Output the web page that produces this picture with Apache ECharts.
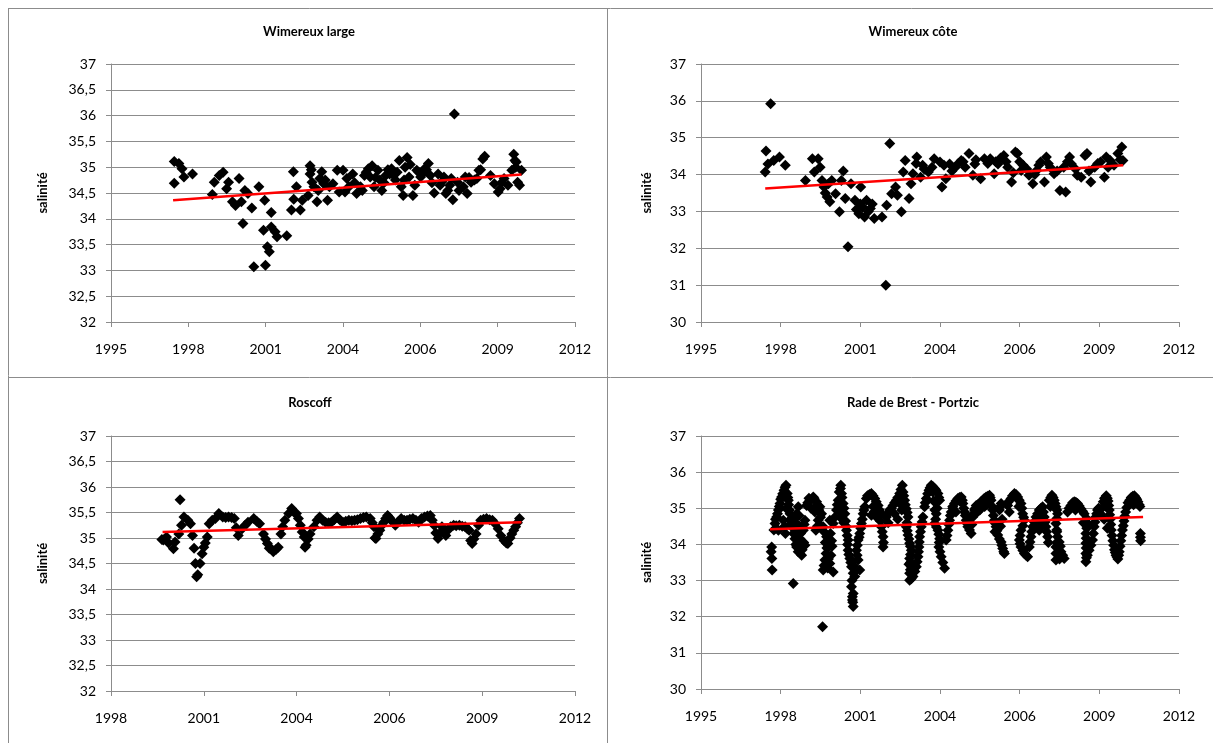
<!DOCTYPE html>
<html>
<head>
<meta charset="utf-8">
<script src="https://cdn.jsdelivr.net/npm/echarts@6/dist/echarts.min.js"></script>
<style>
  html, body { margin: 0; padding: 0; background: #fff; }
  #chart { width: 1213px; height: 743px; }
</style>
</head>
<body>
<div id="chart"></div>
<script>
// x values are Excel date serials (days since 1899-12-30), y = salinity
var wimereuxLarge = [
  [35818,35.11],[35878,35.07],[35818,34.69],[35918,34.97],[35943,34.81],[36054,34.87],[36310,34.47],[36335,34.71],
  [36400,34.84],[36450,34.90],[36495,34.58],[36520,34.71],[36570,34.33],[36610,34.26],[36656,34.78],[36686,34.33],
  [36706,33.91],[36731,34.55],[36771,34.49],[36821,34.21],[36847,33.07],[36912,34.62],[36987,34.36],[36997,33.10],
  [36972,33.78],[37022,33.46],[37047,33.36],[37072,34.12],[37072,33.84],[37122,33.75],[37147,33.65],[37273,33.67],
  [37358,34.91],[37333,34.17],[37363,34.38],[37398,34.62],[37448,34.17],[37473,34.36],[37549,34.45],[37574,35.03],
  [37574,34.87],[37599,34.71],[37624,34.62],[37664,34.33],[37700,34.78],[37725,34.91],[37750,34.68],[37800,34.36],
  [37825,34.62],[37926,34.94],[37951,34.52],[38001,34.94],[38026,34.52],[38076,34.62],[38126,34.87],[38176,34.49],
  [38226,34.62],[38277,34.84],[38327,34.97],[38352,34.81],[38377,35.03],[38402,34.62],[38452,34.94],[38477,34.75],
  [38502,34.55],[38552,34.84],[38603,34.87],[38628,34.97],[38678,34.75],[38728,35.13],[38753,34.62],[38778,34.45],
  [38803,35.00],[38829,35.19],[38854,34.81],[38904,34.45],[38929,34.65],[38954,34.94],[39004,34.81],[39054,34.97],
  [39104,35.07],[39129,34.84],[39179,34.50],[39230,34.87],[39255,34.65],[39305,34.81],[39330,34.49],[39380,34.65],
  [39420,34.37],[39440,36.03],[39481,34.71],[39556,34.62],[39581,34.81],[39606,34.49],[39656,34.71],[39731,34.78],
  [39757,34.94],[39807,35.16],[39832,35.21],[39907,34.84],[39957,34.68],[40007,34.52],[40032,34.58],[40083,34.78],
  [40133,34.65],[40183,34.94],[40208,35.25],[40223,35.13],[40233,35.00],[40258,34.71],[40283,34.65],[40308,34.94],
  [37590,34.95],[37680,34.55],[37770,34.75],[37870,34.68],[38050,34.78],[38150,34.70],[38250,34.55],[38300,34.90],
  [38420,34.80],[38530,34.70],[38580,34.95],[38650,34.85],[38700,34.90],[38790,34.75],[38870,35.05],[38980,34.90],
  [39030,34.88],[39080,34.95],[39150,34.70],[39280,34.72],[39355,34.55],[39400,34.78],[39500,34.55],[39630,34.80],
  [39700,34.75],[39780,34.95],[40050,34.70],[40240,35.10]
];
var wimereuxLargeTrend = [[35803,34.36],[40308,34.86]];

var wimereuxCote = [
  [35806,34.07],[35816,34.64],[35840,34.29],[35874,35.92],[35913,34.38],[35985,34.48],[36058,34.25],[36311,33.84],
  [36398,34.43],[36422,34.07],[36471,34.43],[36495,34.20],[36519,33.84],[36544,33.66],[36583,33.39],[36617,33.26],
  [36641,33.84],[36689,33.48],[36738,32.99],[36762,33.84],[36786,34.10],[36811,33.35],[36845,32.04],[36883,33.75],
  [36932,33.30],[37005,33.66],[36981,32.94],[37029,33.12],[37053,32.85],[37078,33.30],[37126,33.08],[37175,32.81],
  [37272,32.85],[37320,31.00],[37330,33.17],[37369,34.84],[37393,33.48],[37442,33.66],[37466,33.44],[37515,32.99],
  [37539,34.07],[37563,34.38],[37612,33.35],[37636,33.75],[37660,34.02],[37709,34.48],[37757,33.93],[37782,34.25],
  [37854,34.07],[37927,34.43],[38000,34.34],[38024,33.66],[38073,33.89],[38121,34.29],[38194,34.20],[38267,34.38],
  [38316,34.20],[38364,34.57],[38413,33.98],[38437,34.29],[38510,33.89],[38558,34.43],[38631,34.43],[38680,34.02],
  [38728,34.29],[38801,34.52],[38850,34.20],[38898,33.80],[38947,34.61],[38971,34.57],[39019,34.11],[39044,34.25],
  [39117,33.98],[39165,33.75],[39214,34.11],[39262,34.34],[39311,33.80],[39335,34.48],[39383,34.20],[39432,34.02],
  [39505,33.57],[39553,34.20],[39578,33.53],[39626,34.48],[39650,34.29],[39723,33.98],[39772,33.93],[39820,34.52],
  [39845,34.57],[39893,33.80],[39942,34.20],[40015,34.34],[40063,33.93],[40087,34.48],[40136,34.38],[40184,34.25],
  [40233,34.57],[40282,34.75],[40296,34.38],
  [36560,33.50],[36600,33.75],[36950,33.05],[37000,33.20],[37100,33.00],[37150,33.20],[37700,34.30],[37800,34.15],
  [37900,34.20],[38050,34.25],[38150,34.10],[38230,34.30],[38290,34.35],[38450,34.40],[38600,34.30],[38700,34.35],
  [38760,34.45],[38830,34.35],[38920,34.05],[39000,34.35],[39090,34.15],[39190,34.00],[39240,34.25],[39360,34.30],
  [39470,34.10],[39600,34.35],[39700,34.15],[39870,34.10],[39980,34.30],[40110,34.20],[40260,34.40]
];
var wimereuxCoteTrend = [[35806,33.62],[40300,34.25]];

var roscoff = [
  [36548,34.97],[36564,34.96],[36598,35.02],[36620,34.90],[36673,34.79],[36690,34.92],[36731,35.08],[36744,35.75],
  [36760,35.25],[36786,35.41],[36828,35.35],[36857,35.28],[36878,35.05],[36895,34.80],[36910,34.50],[36923,34.24],
  [36935,34.28],[36960,34.50],[36982,34.69],[37000,34.82],[37016,34.90],[37037,35.02],[37058,35.28],[37091,35.35],
  [37125,35.38],[37162,35.48],[37204,35.41],[37235,35.40],[37267,35.41],[37300,35.40],[37329,35.38],[37350,35.20],
  [37371,35.05],[37413,35.18],[37445,35.25],[37476,35.31],[37538,35.38],[37570,35.33],[37601,35.28],[37643,35.08],
  [37665,34.98],[37685,34.89],[37705,34.80],[37727,34.79],[37749,34.73],[37780,34.78],[37802,34.82],[37831,35.08],
  [37850,35.22],[37873,35.35],[37915,35.48],[37947,35.58],[37975,35.50],[37998,35.48],[38020,35.38],[38040,35.25],
  [38060,35.12],[38082,35.02],[38091,34.82],[38103,34.86],[38125,34.98],[38145,35.08],[38186,35.22],[38220,35.35],
  [38249,35.41],[38280,35.35],[38312,35.31],[38345,35.30],[38375,35.31],[38405,35.36],[38437,35.41],[38470,35.35],
  [38500,35.31],[38530,35.33],[38563,35.35],[38595,35.34],[38625,35.35],[38655,35.36],[38688,35.38],[38720,35.40],
  [38751,35.41],[38793,35.38],[38815,35.30],[38834,35.22],[38845,35.00],[38855,34.99],[38875,35.08],[38897,35.15],
  [38920,35.25],[38939,35.31],[38960,35.38],[38981,35.44],[39000,35.40],[39022,35.35],[39045,35.30],[39064,35.25],
  [39095,35.32],[39127,35.38],[39160,35.35],[39190,35.35],[39220,35.37],[39253,35.38],[39285,35.35],[39315,35.31],
  [39345,35.38],[39378,35.41],[39410,35.43],[39441,35.44],[39462,35.35],[39482,35.25],[39500,35.10],[39524,34.99],
  [39545,35.10],[39566,35.22],[39590,35.12],[39608,35.05],[39630,35.15],[39660,35.22],[39692,35.25],[39720,35.24],
  [39754,35.25],[39785,35.23],[39817,35.22],[39840,35.18],[39859,35.15],[39875,34.95],[39892,34.89],[39910,34.98],
  [39934,35.08],[39960,35.25],[39984,35.35],[40015,35.37],[40047,35.38],[40080,35.36],[40110,35.35],[40140,35.28],
  [40172,35.18],[40200,35.05],[40235,34.95],[40260,34.90],[40277,34.89],[40300,35.00],[40319,35.08],[40340,35.15],
  [40360,35.22],[40380,35.30],[40402,35.38]
];
var roscoffTrend = [[36556,35.12],[40423,35.31]];

var brestPortzic = [
  [35887,33.93],[35890,33.61],[35893,33.29],[35880,33.80],
  [35929,34.58],[35950,34.76],[35971,34.95],[35992,35.13],[36012,35.31],[36042,35.50],[36067,35.64],[36083,35.41],
  [36096,35.22],[36075,34.99],[36117,34.85],[36117,34.67],[36138,34.49],[35971,34.39],[36033,34.67],[35940,34.45],
  [35915,34.40],[35935,34.70],[35960,34.85],[35982,35.05],[36000,35.25],[36025,35.40],[36055,35.58],[36090,35.30],
  [36100,35.10],[36110,34.95],[36125,34.70],[36130,34.55],[36050,34.50],[36060,34.30],
  [36221,35.04],[36200,34.85],[36179,34.62],[36200,34.39],[36179,34.16],[36200,33.93],[36263,33.70],[36305,33.98],
  [36158,32.92],[36242,34.16],[36284,34.39],[36305,34.67],[36160,34.30],[36240,34.50],
  [36190,34.00],[36210,34.25],[36230,34.80],[36250,34.30],[36270,33.85],[36290,34.05],[36295,34.55],[36220,33.80],
  [36180,34.75],
  [36325,35.08],[36367,35.22],[36409,35.31],[36451,35.18],[36492,35.04],[36513,34.85],[36471,34.67],[36442,34.39],
  [36513,34.49],[36380,35.00],[36430,34.90],[36340,35.15],[36355,35.28],[36390,35.25],[36420,35.28],[36460,35.10],
  [36480,34.95],[36500,34.75],[36460,34.50],
  [36534,34.49],[36576,34.21],[36597,33.93],[36555,33.57],[36534,33.29],[36659,33.24],[36617,33.47],[36526,31.72],
  [36617,34.67],[36659,34.58],[36580,33.90],[36640,34.10],[36545,34.35],[36560,34.05],[36570,33.75],[36545,33.42],
  [36590,33.35],[36600,33.60],[36630,33.70],[36645,33.95],[36625,34.30],[36680,34.75],
  [36701,34.95],[36722,35.22],[36755,35.64],[36764,35.41],[36784,35.13],[36805,34.85],[36743,34.76],[36826,34.39],
  [36847,34.12],[36847,33.84],[36868,33.61],[36730,35.00],[36790,34.60],[36710,35.10],[36735,35.45],[36750,35.55],
  [36770,35.30],[36795,35.00],[36815,34.65],[36820,34.50],[36835,34.25],[36840,34.00],[36855,33.72],[36760,34.90],
  [36889,33.38],[36910,33.20],[36930,33.11],[36889,32.83],[36910,32.64],[36901,32.46],[36910,32.28],[36993,33.29],
  [36972,33.57],[36951,33.84],[36972,34.12],[36993,34.30],[37014,34.58],[37035,34.85],[37056,35.04],[36905,32.40],
  [36880,33.50],[36895,33.00],[36900,32.55],[36920,33.40],[36960,33.70],[36962,33.98],[36985,34.20],[37005,34.45],
  [37025,34.70],[37045,34.95],
  [37076,35.27],[37139,35.41],[37181,35.27],[37223,35.08],[37264,34.85],[37202,34.76],[37139,34.81],[37264,34.49],
  [37285,34.21],[37285,33.93],[37100,35.35],[37160,35.05],[37240,34.90],[37090,35.35],[37115,35.38],[37160,35.35],
  [37200,35.18],[37240,34.95],[37250,34.65],[37275,34.35],[37290,34.05],[37170,34.90],[37220,34.80],
  [37327,34.76],[37369,34.95],[37410,35.08],[37452,35.22],[37494,35.41],[37527,35.64],[37536,35.45],[37556,35.22],
  [37577,34.99],[37598,34.76],[37350,34.60],[37430,34.85],[37510,35.10],[37340,34.85],[37390,35.00],[37430,35.15],
  [37470,35.30],[37510,35.52],[37545,35.35],[37565,35.10],[37588,34.88],[37520,34.95],[37470,34.70],
  [37577,34.49],[37598,34.26],[37619,34.03],[37640,33.84],[37619,33.61],[37640,33.38],[37619,33.20],[37619,33.01],
  [37661,33.11],[37703,33.38],[37724,33.66],[37736,33.93],[37744,34.21],[37765,34.49],[37786,34.76],[37630,33.50],
  [37585,34.60],[37590,34.38],[37610,34.15],[37628,33.95],[37630,33.72],[37628,33.30],[37640,33.05],[37685,33.25],
  [37713,33.52],[37730,33.80],[37740,34.07],[37755,34.35],[37775,34.62],[37610,33.45],
  [37807,35.04],[37828,35.27],[37861,35.50],[37890,35.64],[37932,35.55],[37974,35.41],[37995,35.22],[37953,34.85],
  [37932,34.58],[37974,34.39],[37995,34.16],[37986,33.93],[38015,33.66],[38057,33.34],[37910,35.45],[37960,35.20],
  [37815,35.15],[37845,35.40],[37875,35.57],[37910,35.60],[37950,35.50],[37985,35.30],[37965,35.00],[37945,34.70],
  [37955,34.48],[37985,34.28],[37990,34.05],[38000,33.80],[38035,33.50],[37920,35.20],[37935,34.95],
  [38078,34.12],[38099,34.39],[38120,34.67],[38141,34.90],[38182,35.13],[38224,35.27],[38266,35.31],[38287,35.13],
  [38308,34.90],[38329,34.67],[38349,34.49],[38391,34.30],[38160,35.00],[38245,35.20],[38088,34.25],[38110,34.55],
  [38130,34.80],[38160,35.05],[38200,35.20],[38245,35.30],[38280,35.22],[38298,35.00],[38318,34.80],[38340,34.58],
  [38370,34.40],[38200,34.90],
  [38412,34.76],[38433,34.95],[38454,35.08],[38495,35.13],[38537,35.22],[38579,35.31],[38621,35.36],[38641,35.22],
  [38400,34.55],[38470,34.90],[38560,35.05],[38420,34.85],[38443,35.00],[38475,35.10],[38515,35.18],[38555,35.27],
  [38600,35.33],[38630,35.30],[38500,34.95],[38590,35.10],
  [38662,34.95],[38683,34.67],[38704,34.49],[38725,34.26],[38767,34.07],[38787,33.89],[38808,33.75],[38767,35.13],
  [38746,34.95],[38690,34.35],[38760,34.50],[38655,35.05],[38670,34.80],[38695,34.58],[38715,34.38],[38745,34.15],
  [38777,33.98],[38800,33.80],[38757,35.05],[38780,34.70],
  [38850,35.08],[38892,35.27],[38934,35.41],[38975,35.31],[39017,35.13],[39038,34.85],[39059,34.67],[39017,34.39],
  [38996,34.12],[39017,33.93],[39059,33.75],[39100,33.66],[38870,34.90],[38955,35.30],[38860,35.18],[38910,35.35],
  [38955,35.38],[38995,35.22],[39028,35.00],[39050,34.75],[39040,34.52],[39005,34.25],[39005,34.02],[39040,33.83],
  [39080,33.70],[38990,35.05],
  [39121,33.93],[39142,34.21],[39163,34.49],[39205,34.76],[39246,34.95],[39288,35.04],[39309,34.76],[39330,34.49],
  [39351,34.21],[39246,34.39],[39225,34.60],[39270,34.70],[39130,34.07],[39152,34.35],[39185,34.62],[39225,34.85],
  [39268,35.00],[39298,34.90],[39320,34.62],[39340,34.35],[39290,34.55],[39360,34.05],
  [39372,35.22],[39405,35.36],[39434,35.22],[39455,35.04],[39476,34.85],[39455,34.58],[39476,34.21],[39455,33.93],
  [39455,33.57],[39559,33.61],[39518,33.80],[39497,34.07],[39465,34.40],[39470,33.75],[39390,35.30],[39420,35.30],
  [39445,35.13],[39466,34.95],[39466,34.72],[39466,34.35],[39466,34.05],[39455,33.75],[39500,33.60],[39540,33.70],
  [39510,33.95],[39385,35.05],
  [39601,34.90],[39643,35.08],[39685,35.18],[39726,35.13],[39768,34.99],[39810,34.85],[39852,34.58],[39831,34.30],
  [39831,34.03],[39831,33.75],[39831,33.52],[39872,33.84],[39914,34.12],[39935,34.49],[39956,34.76],[39977,34.95],
  [39620,35.00],[39665,35.15],[39705,35.17],[39748,35.06],[39790,34.92],[39840,34.72],[39842,34.45],[39835,34.17],
  [39835,33.90],[39838,33.63],[39850,33.70],[39895,33.98],[39925,34.30],[39945,34.62],[39967,34.85],[39990,35.00],
  [39700,34.95],[39800,34.60],
  [40015,34.85],[40049,35.18],[40087,35.35],[40110,35.20],[40125,34.95],[40136,34.70],[40150,34.40],[40170,34.10],
  [40190,33.85],[40210,33.70],[40233,33.60],[40250,33.80],[40270,34.10],[40290,34.40],[40310,34.65],[40330,34.90],
  [40360,35.15],[40400,35.30],[40440,35.35],[40470,35.25],[40500,35.10],[40515,34.30],[40518,34.10],
  [40030,35.00],[40065,35.28],[40100,35.28],[40118,35.08],[40130,34.82],[40143,34.55],[40160,34.25],[40180,33.98],
  [40200,33.78],[40222,33.65],[40243,33.70],[40260,33.95],[40280,34.25],[40300,34.52],[40320,34.78],[40345,35.02],
  [40380,35.22],[40420,35.33],[40455,35.30],[40485,35.18],[40510,35.05],[40516,34.20],[40060,34.70],[40100,34.45],
  [40430,35.10]
];
var brestPortzicTrend = [[35866,34.42],[40549,34.76]];

var panelTitles = ['Wimereux large', 'Wimereux côte', 'Roscoff', 'Rade de Brest - Portzic'];
var xMins = [35000, 35000, 36000, 35000];
var yMins = [32, 30, 32, 30];
var yMaxs = [37, 37, 37, 37];
var ySteps = [0.5, 1, 0.5, 1];

var pointSets = [wimereuxLarge, wimereuxCote, roscoff, brestPortzic];
var trendSets = [wimereuxLargeTrend, wimereuxCoteTrend, roscoffTrend, brestPortzicTrend];

var grids = [
  {left: 111, top: 64, width: 464, height: 258},
  {left: 701, top: 64, width: 478, height: 258},
  {left: 111, top: 436, width: 464, height: 255},
  {left: 701, top: 436, width: 478, height: 253}
];
var titlePos = [[309, 32], [913, 32], [310, 403], [913, 403]];
var nameGaps = [62, 48, 62, 48];

var gridColor = '#8c8c8c';
var font = 'Lato, "Liberation Sans", sans-serif';

function serialToYear(v) {
  return new Date(Math.round((v - 25569) * 86400000)).getUTCFullYear();
}

var xAxes = [], yAxes = [], series = [], graphics = [];
for (var i = 0; i < 4; i++) {
  xAxes.push({
    gridIndex: i, type: 'value', min: xMins[i], max: 41000, interval: 1000,
    axisLine: {show: true, lineStyle: {color: gridColor, width: 1}},
    axisTick: {show: true, length: 5, lineStyle: {color: gridColor}},
    splitLine: {show: false},
    axisLabel: {margin: 20, color: '#000', fontFamily: font, fontSize: 14, formatter: serialToYear}
  });
  yAxes.push({
    gridIndex: i, type: 'value', min: yMins[i], max: yMaxs[i], interval: ySteps[i],
    name: 'salinité', nameLocation: 'middle', nameRotate: 90, nameGap: nameGaps[i],
    nameTextStyle: {color: '#000', fontFamily: font, fontSize: 13, fontWeight: 'bold'},
    axisLine: {show: true, lineStyle: {color: gridColor, width: 1}},
    axisTick: {show: true, length: 5, lineStyle: {color: gridColor}},
    splitLine: {show: true, lineStyle: {color: gridColor, width: 1}},
    axisLabel: {margin: 15, color: '#000', fontFamily: font, fontSize: 14,
      formatter: function (v) { return String(Math.round(v * 10) / 10).replace('.', ','); }}
  });
  series.push({
    type: 'scatter', xAxisIndex: i, yAxisIndex: i, data: pointSets[i],
    symbol: 'diamond', symbolSize: 11, itemStyle: {color: '#000', opacity: 1}, z: 2
  });
  series.push({
    type: 'line', xAxisIndex: i, yAxisIndex: i, data: trendSets[i],
    showSymbol: false, lineStyle: {color: '#ff0000', width: 2.5}, z: 3
  });
  graphics.push({
    type: 'text', x: titlePos[i][0], y: titlePos[i][1],
    style: {text: panelTitles[i], fill: '#000', font: 'bold 13px ' + font, textAlign: 'center', textVerticalAlign: 'middle'}
  });
}

// thin cell borders around the four panels
var borderLines = [[8, 8.5, 1213, 8.5], [8.5, 8, 8.5, 743], [607.5, 8, 607.5, 743], [8, 377.5, 1213, 377.5]];
borderLines.forEach(function (b) {
  graphics.push({type: 'line', shape: {x1: b[0], y1: b[1], x2: b[2], y2: b[3]}, style: {stroke: '#8c8c8c', lineWidth: 1}});
});

var chart = echarts.init(document.getElementById('chart'));
chart.setOption({
  animation: false,
  backgroundColor: '#fff',
  grid: grids,
  xAxis: xAxes,
  yAxis: yAxes,
  series: series,
  graphic: graphics
});
</script>
</body>
</html>
